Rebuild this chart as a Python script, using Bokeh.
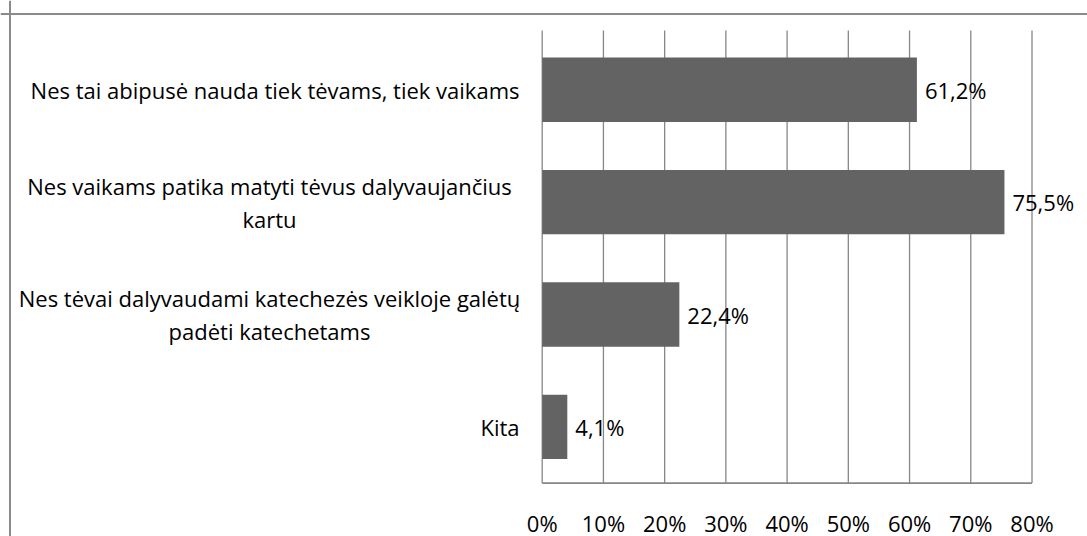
from bokeh.plotting import figure
from bokeh.models import ColumnDataSource, Range1d, Span
from bokeh.core.properties import value
from bokeh.embed import file_html
from bokeh.resources import INLINE

# ---------------- data ----------------
categories = [
    "Nes tai abipusė nauda tiek tėvams, tiek vaikams",
    "Nes vaikams patika matyti tėvus dalyvaujančius\nkartu",
    "Nes tėvai dalyvaudami katechezės veikloje galėtų\npadėti katechetams",
    "Kita",
]
values = [61.2, 75.5, 22.4, 4.1]
value_labels = ["61,2%", "75,5%", "22,4%", "4,1%"]
tick_values = [0, 10, 20, 30, 40, 50, 60, 70, 80]
tick_labels = ["0%", "10%", "20%", "30%", "40%", "50%", "60%", "70%", "80%"]

# ---------------- layout (pixels on page) ----------------
W, H = 1087, 536
PAGE = 0
X0_PX, X80_PX = 541.7, 1031.5          # 0% and 80% positions
TOP_PX, BOT_PX = 33.0, 482.6           # plot area top / bottom
n = len(categories)
sx = (X80_PX - X0_PX) / (tick_values[-1] - tick_values[0])   # px per %
sy = (BOT_PX - TOP_PX) / n                                     # px per category


def xd(px):
    return (px - X0_PX) / sx


def yd(py):
    return (BOT_PX - py) / sy


x_start, x_end = xd(PAGE), xd(PAGE + W)
y_start, y_end = yd(PAGE + H), yd(PAGE)

FONT = value("Open Sans")
GRID = "#878787"
BAR = "#636363"

p = figure(width=W, height=H, output_backend="svg", toolbar_location=None,
           x_axis_location=None, y_axis_location=None,
           x_range=Range1d(x_start, x_end), y_range=Range1d(y_start, y_end),
           min_border=0, outline_line_color=None,
           background_fill_color="white", border_fill_color="white")
p.grid.visible = False

ypos = [n - 0.5 - i for i in range(n)]

# gridlines (0% .. 80%)
p.segment(x0=tick_values, x1=tick_values, y0=[0] * len(tick_values),
          y1=[yd(30.0)] * len(tick_values), line_color=GRID, line_width=1.3)
# bottom axis line
p.segment(x0=[tick_values[0]], x1=[tick_values[-1]], y0=[0], y1=[0],
          line_color=GRID, line_width=1.6)

# bars
src = ColumnDataSource(dict(y=ypos, v=values, lab=value_labels, cat=categories))
p.hbar(y="y", left=0, right="v", height=0.573, source=src,
       fill_color=BAR, line_color=None)

# value labels
p.text(x="v", y="y", text="lab", source=src, x_offset=8,
       text_font=FONT, text_font_size="22px", text_color="black",
       text_align="left", text_baseline="middle")

# category labels
label_align = ["right", "center", "center", "right"]
anchor_px = {"right": 519.0, "center": 269.0}
cat_x = [xd(anchor_px[a]) for a in label_align]
src2 = ColumnDataSource(dict(x=cat_x, y=ypos, t=categories, a=label_align))
p.text(x="x", y="y", text="t", text_align="a", source=src2,
       text_font=FONT, text_font_size="22px", text_color="black",
       text_baseline="middle", text_line_height=1.1)

# tick labels
p.text(x=tick_values, y=[yd(522.0)] * len(tick_values), text=tick_labels,
       text_font=FONT, text_font_size="22px", text_color="black",
       text_align="center", text_baseline="middle")

# outer chart border (top and left)
p.add_layout(Span(location=xd(9.5), dimension="height", line_color="#8a8a8a", line_width=2))
p.add_layout(Span(location=yd(13.5), dimension="width", line_color="#8a8a8a", line_width=2))

open("out.html", "w").write(file_html(p, INLINE))
